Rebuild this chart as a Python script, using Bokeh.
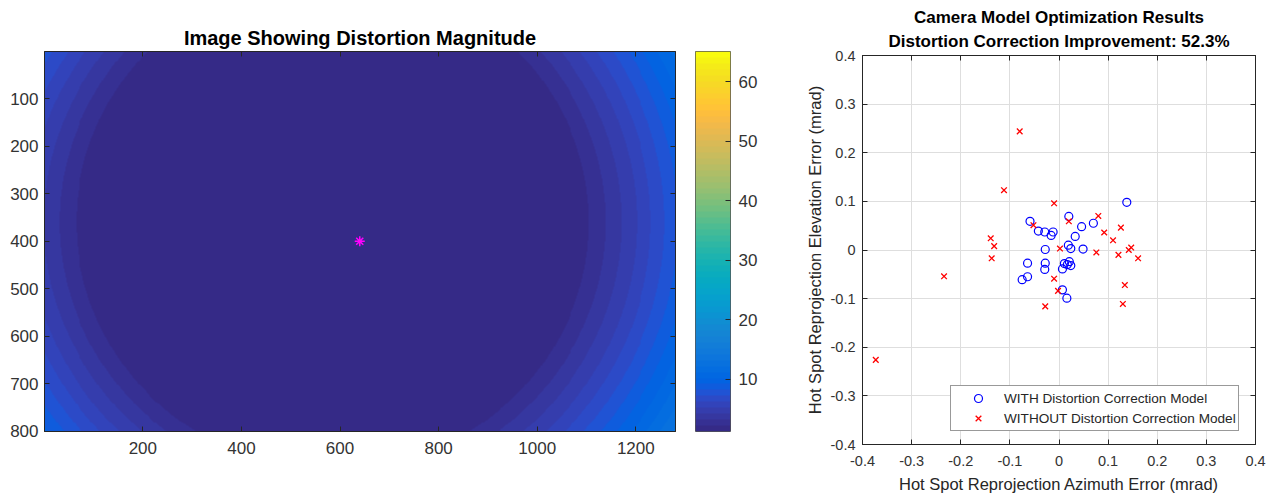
import numpy as np
from bokeh.plotting import figure
from bokeh.layouts import row, column
from bokeh.models import (Range1d, LinearColorMapper, FixedTicker, LinearAxis, Title,
                          Legend, LegendItem, CustomJSTickFormatter)
from bokeh.embed import file_html
from bokeh.resources import INLINE

FONT = "Liberation Sans"
AX = "#262626"
TXT = "#333333"

# ---------------- data ----------------
image_size = [1280, 800]                 # width, height (pixels)
distortion_center = [585, 360]           # where the distortion magnitude is minimal
band_radii = [520, 554, 586, 617, 645, 673, 700, 725, 750, 774, 797, 819, 841]
band_base_value = 1.7                    # magnitude inside the innermost band
color_limits = [1.2, 65.1]
principal_point_x = [640]
principal_point_y = [400]
image_xticks = [200, 400, 600, 800, 1000, 1200]
image_yticks = [100, 200, 300, 400, 500, 600, 700, 800]
colorbar_ticks = [10, 20, 30, 40, 50, 60]

with_x = [-0.059, -0.042, -0.029, -0.012, -0.016, 0.020, 0.046, 0.070, 0.138, 0.033,
          0.019, 0.024, 0.049, -0.028, -0.064, -0.028, -0.029, -0.075, -0.064, 0.007,
          0.011, 0.021, 0.017, 0.024, 0.007, 0.016]
with_y = [0.059, 0.039, 0.037, 0.037, 0.030, 0.069, 0.048, 0.055, 0.098, 0.028,
          0.010, 0.003, 0.002, 0.001, -0.027, -0.027, -0.040, -0.061, -0.055, -0.039,
          -0.028, -0.024, -0.030, -0.032, -0.082, -0.099]
without_x = [-0.112, -0.010, -0.052, 0.020, 0.080, 0.092, 0.110, 0.126, 0.147, 0.142,
             0.161, 0.121, 0.076, 0.002, -0.139, -0.132, -0.137, -0.234, -0.010, -0.002,
             -0.028, 0.134, 0.130, -0.373, -0.080]
without_y = [0.123, 0.096, 0.051, 0.059, 0.070, 0.036, 0.020, 0.046, 0.005, 0.000,
             -0.017, -0.010, -0.005, 0.003, 0.024, 0.008, -0.017, -0.054, -0.059, -0.084,
             -0.116, -0.072, -0.111, -0.226, 0.244]
err_ticks = [-0.4, -0.3, -0.2, -0.1, 0, 0.1, 0.2, 0.3, 0.4]
improvement_pct = 52.3

# MATLAB parula (64 colours)
parula_rgb = [
    (0.2081, 0.1663, 0.5292), (0.2116, 0.1898, 0.5777), (0.2123, 0.2138, 0.6270), (0.2081, 0.2386, 0.6771),
    (0.1959, 0.2645, 0.7279), (0.1707, 0.2919, 0.7792), (0.1253, 0.3242, 0.8303), (0.0591, 0.3598, 0.8683),
    (0.0117, 0.3875, 0.8820), (0.0060, 0.4086, 0.8828), (0.0165, 0.4266, 0.8786), (0.0329, 0.4430, 0.8720),
    (0.0498, 0.4586, 0.8641), (0.0629, 0.4737, 0.8554), (0.0723, 0.4887, 0.8467), (0.0779, 0.5040, 0.8384),
    (0.0793, 0.5200, 0.8312), (0.0749, 0.5375, 0.8263), (0.0641, 0.5570, 0.8240), (0.0488, 0.5772, 0.8228),
    (0.0343, 0.5966, 0.8199), (0.0265, 0.6137, 0.8135), (0.0239, 0.6287, 0.8038), (0.0231, 0.6418, 0.7913),
    (0.0228, 0.6535, 0.7768), (0.0267, 0.6642, 0.7607), (0.0384, 0.6743, 0.7436), (0.0590, 0.6838, 0.7254),
    (0.0843, 0.6928, 0.7062), (0.1133, 0.7015, 0.6859), (0.1453, 0.7098, 0.6646), (0.1801, 0.7177, 0.6424),
    (0.2178, 0.7250, 0.6193), (0.2586, 0.7317, 0.5954), (0.3022, 0.7376, 0.5712), (0.3482, 0.7424, 0.5473),
    (0.3953, 0.7459, 0.5244), (0.4420, 0.7481, 0.5033), (0.4871, 0.7491, 0.4840), (0.5300, 0.7491, 0.4661),
    (0.5709, 0.7485, 0.4494), (0.6099, 0.7473, 0.4337), (0.6473, 0.7456, 0.4188), (0.6834, 0.7435, 0.4044),
    (0.7184, 0.7411, 0.3905), (0.7525, 0.7384, 0.3768), (0.7858, 0.7356, 0.3633), (0.8185, 0.7327, 0.3498),
    (0.8507, 0.7299, 0.3360), (0.8824, 0.7274, 0.3217), (0.9139, 0.7258, 0.3063), (0.9450, 0.7261, 0.2886),
    (0.9739, 0.7314, 0.2666), (0.9938, 0.7455, 0.2403), (0.9990, 0.7653, 0.2164), (0.9955, 0.7861, 0.1967),
    (0.9880, 0.8066, 0.1794), (0.9789, 0.8271, 0.1633), (0.9697, 0.8481, 0.1475), (0.9626, 0.8705, 0.1309),
    (0.9589, 0.8949, 0.1132), (0.9598, 0.9218, 0.0948), (0.9661, 0.9514, 0.0755), (0.9763, 0.9831, 0.0538),
]
parula = ["#%02x%02x%02x" % tuple(int(round(c * 255)) for c in rgb) for rgb in parula_rgb]

# distortion magnitude image (banded)
ncols, nrows = 640, 400
xs = (np.arange(ncols) + 0.5) * image_size[0] / ncols + 0.5
ys = (np.arange(nrows) + 0.5) * image_size[1] / nrows + 0.5
X, Y = np.meshgrid(xs, ys)
R = np.hypot(X - distortion_center[0], Y - distortion_center[1])
band = np.searchsorted(np.array(band_radii), R)
magnitude = (band_base_value + band).astype(np.float32)

mapper = LinearColorMapper(palette=parula, low=color_limits[0], high=color_limits[1])


def style_axis(ax, fs, labels=True):
    ax.axis_line_color = AX
    ax.major_tick_line_color = AX
    ax.major_tick_in = 5
    ax.major_tick_out = 0
    ax.minor_tick_line_color = None
    ax.major_label_text_font = FONT
    ax.major_label_text_font_size = fs
    ax.major_label_text_color = TXT
    if not labels:
        ax.major_label_text_font_size = "1px"
        ax.major_label_text_color = None
        ax.major_label_standoff = 0


# ---------------- left: image ----------------
p1 = figure(width=695, height=495, x_range=Range1d(0.5, 1280.5), y_range=Range1d(800.5, 0.5),
            output_backend="svg", toolbar_location=None, title=None,
            min_border_left=44, min_border_right=20, min_border_top=51, min_border_bottom=64)
p1.image(image=[magnitude], x=0.5, y=0.5, dw=image_size[0], dh=image_size[1], color_mapper=mapper)
p1.scatter(principal_point_x, principal_point_y, marker="asterisk", size=10,
           line_color="#ff00ff", line_width=1.5)
p1.grid.visible = False
p1.outline_line_color = AX
p1.xaxis.ticker = FixedTicker(ticks=image_xticks)
p1.yaxis.ticker = FixedTicker(ticks=image_yticks)
style_axis(p1.xaxis[0], "17px")
style_axis(p1.yaxis[0], "17px")
p1.xaxis.major_label_standoff = 10
p1.yaxis.major_label_standoff = 6
top1 = LinearAxis(ticker=FixedTicker(ticks=image_xticks))
right1 = LinearAxis(ticker=FixedTicker(ticks=image_yticks))
style_axis(top1, "17px", labels=False)
style_axis(right1, "17px", labels=False)
p1.add_layout(top1, "above")
p1.add_layout(right1, "right")
p1.add_layout(Title(text="Image Showing Distortion Magnitude", align="center", text_font=FONT,
                    text_font_size="20px", text_font_style="bold", text_color="#000000",
                    standoff=6), "above")

# ---------------- colorbar ----------------
pc = figure(width=95, height=495, x_range=Range1d(0, 1), y_range=Range1d(*color_limits),
            output_backend="svg", toolbar_location=None, title=None, y_axis_location="right",
            min_border_left=0, min_border_right=60, min_border_top=51, min_border_bottom=64)
cb_levels = np.linspace(color_limits[0], color_limits[1], len(parula) + 1)
cb_img = ((cb_levels[:-1] + cb_levels[1:]) / 2).reshape(-1, 1).astype(np.float32)
pc.image(image=[cb_img], x=0, y=color_limits[0], dw=1, dh=color_limits[1] - color_limits[0],
         color_mapper=mapper)
pc.xaxis.visible = False
pc.grid.visible = False
pc.outline_line_color = "#555555"
pc.yaxis.ticker = FixedTicker(ticks=colorbar_ticks)
style_axis(pc.yaxis[0], "17px")
pc.yaxis.axis_line_color = None
pc.yaxis.major_label_standoff = 8

# ---------------- right: scatter ----------------
p2 = figure(width=478, height=495, x_range=Range1d(-0.4, 0.4), y_range=Range1d(-0.4, 0.4),
            output_backend="svg", toolbar_location=None, title=None,
            min_border_left=72, min_border_right=13, min_border_top=55, min_border_bottom=50)
r_with = p2.scatter(with_x, with_y, marker="circle", size=8, fill_color=None,
                    line_color="#0000ff", line_width=1.2)
r_without = p2.scatter(without_x, without_y, marker="x", size=8, line_color="#ff0000",
                       line_width=1.3)
p2.outline_line_color = AX
fmt = CustomJSTickFormatter(code="return String(Number(tick.toFixed(2)));")
for ax in (p2.xaxis[0], p2.yaxis[0]):
    ax.ticker = FixedTicker(ticks=err_ticks)
    ax.formatter = fmt
    style_axis(ax, "14.5px")
    ax.axis_label_text_font = FONT
    ax.axis_label_text_font_size = "16.5px"
    ax.axis_label_text_font_style = "normal"
    ax.axis_label_text_color = AX
p2.xaxis.major_label_standoff = 11
p2.xaxis.axis_label_standoff = 6
p2.yaxis.major_label_standoff = 7
p2.yaxis.axis_label_standoff = 4
p2.xaxis.axis_label = "Hot Spot Reprojection Azimuth Error (mrad)"
p2.yaxis.axis_label = "Hot Spot Reprojection Elevation Error (mrad)"
p2.xgrid.ticker = FixedTicker(ticks=err_ticks)
p2.ygrid.ticker = FixedTicker(ticks=err_ticks)
p2.grid.grid_line_color = "#dedede"
top2 = LinearAxis(ticker=FixedTicker(ticks=err_ticks))
right2 = LinearAxis(ticker=FixedTicker(ticks=err_ticks))
style_axis(top2, "14.5px", labels=False)
style_axis(right2, "14.5px", labels=False)
p2.add_layout(top2, "above")
p2.add_layout(right2, "right")
p2.add_layout(Title(text="Distortion Correction Improvement: %.1f%%" % improvement_pct,
                    align="center", text_font=FONT, text_font_size="17px",
                    text_font_style="bold", text_color="#000000", standoff=9), "above")
p2.add_layout(Title(text="Camera Model Optimization Results", align="center", text_font=FONT,
                    text_font_size="17px", text_font_style="bold", text_color="#000000",
                    standoff=-2), "above")
legend = Legend(items=[LegendItem(label="WITH Distortion Correction Model", renderers=[r_with]),
                       LegendItem(label="WITHOUT Distortion Correction Model", renderers=[r_without])],
                location=(88, 13), orientation="vertical", padding=2, spacing=0, margin=0,
                glyph_width=50, glyph_height=20, label_height=20, label_standoff=1,
                label_text_font=FONT, label_text_font_size="13.6px", label_text_color=AX,
                border_line_color="#333333", border_line_width=1,
                background_fill_color="white", background_fill_alpha=1)
p2.add_layout(legend)

layout = row(column(p1), column(pc), column(p2))
open("out.html", "w").write(file_html(layout, INLINE))
